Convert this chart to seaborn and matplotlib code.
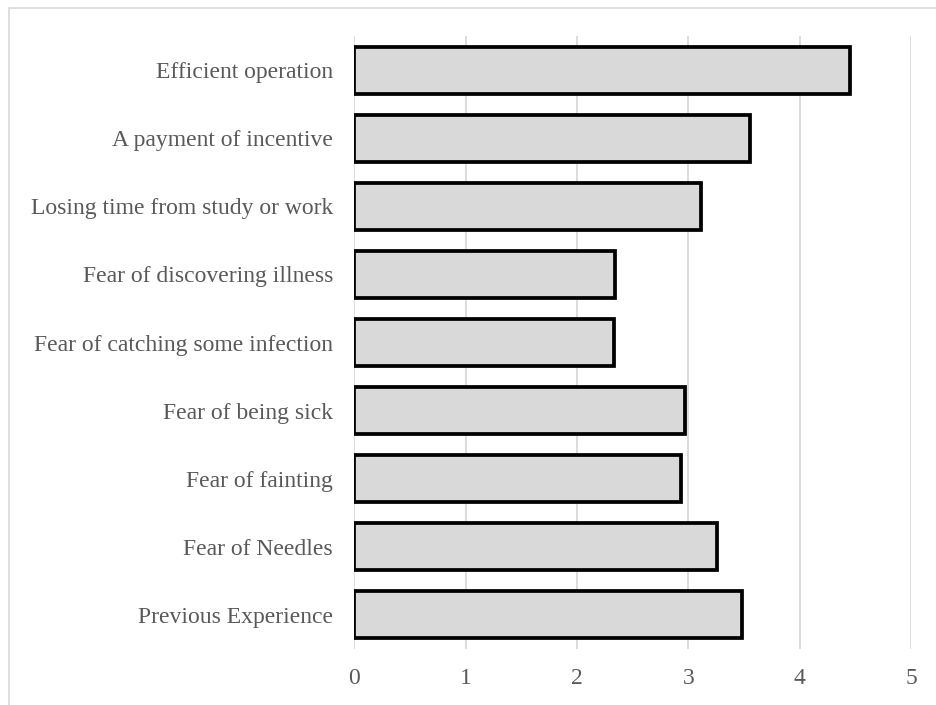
import matplotlib
matplotlib.use("Agg")
import matplotlib.pyplot as plt
import matplotlib.patches as mpatches
import seaborn as sns
import pandas as pd

categories = [
    "Efficient operation",
    "A payment of incentive",
    "Losing time from study or work",
    "Fear of discovering illness",
    "Fear of catching some infection",
    "Fear of being sick",
    "Fear of fainting",
    "Fear of Needles",
    "Previous Experience",
]
scores = [4.45, 3.55, 3.11, 2.34, 2.33, 2.97, 2.93, 3.26, 3.48]
x_ticks = [0, 1, 2, 3, 4, 5]

sns.set_theme(style="white")
plt.rcParams["font.family"] = ["Liberation Serif", "DejaVu Serif"]

df = pd.DataFrame({"reason": categories, "score": scores})

fig = plt.figure(figsize=(9.36, 7.05), dpi=100)
ax = fig.add_axes([0.3787, 0.0794, 0.5946, 0.8695])

sns.barplot(
    data=df, x="score", y="reason", orient="h", ax=ax,
    color="#d9d9d9", saturation=1, width=0.69,
    edgecolor="black", linewidth=2.7,
)

ax.set_xlim(0, 5)
ax.set_xticks(x_ticks)
ax.set_xticklabels([str(t) for t in x_ticks])
ax.set_xlabel("")
ax.set_ylabel("")
ax.grid(axis="x", color="#d9d9d9", linewidth=1.3)
ax.set_axisbelow(True)
for s in ax.spines.values():
    s.set_visible(False)
ax.tick_params(axis="x", length=0, pad=14, labelsize=17, labelcolor="#595959")
ax.tick_params(axis="y", length=0, pad=15.5, labelsize=17, labelcolor="#595959")

# light frame around the chart area
frame = mpatches.Rectangle(
    (8.5 / 936, -0.05), 1.1, 1.05 - 8 / 705,
    transform=fig.transFigure, fill=False, edgecolor="#d9d9d9", linewidth=1.2,
)
fig.patches.append(frame)

fig.savefig("out.png", dpi=100, facecolor="white")
